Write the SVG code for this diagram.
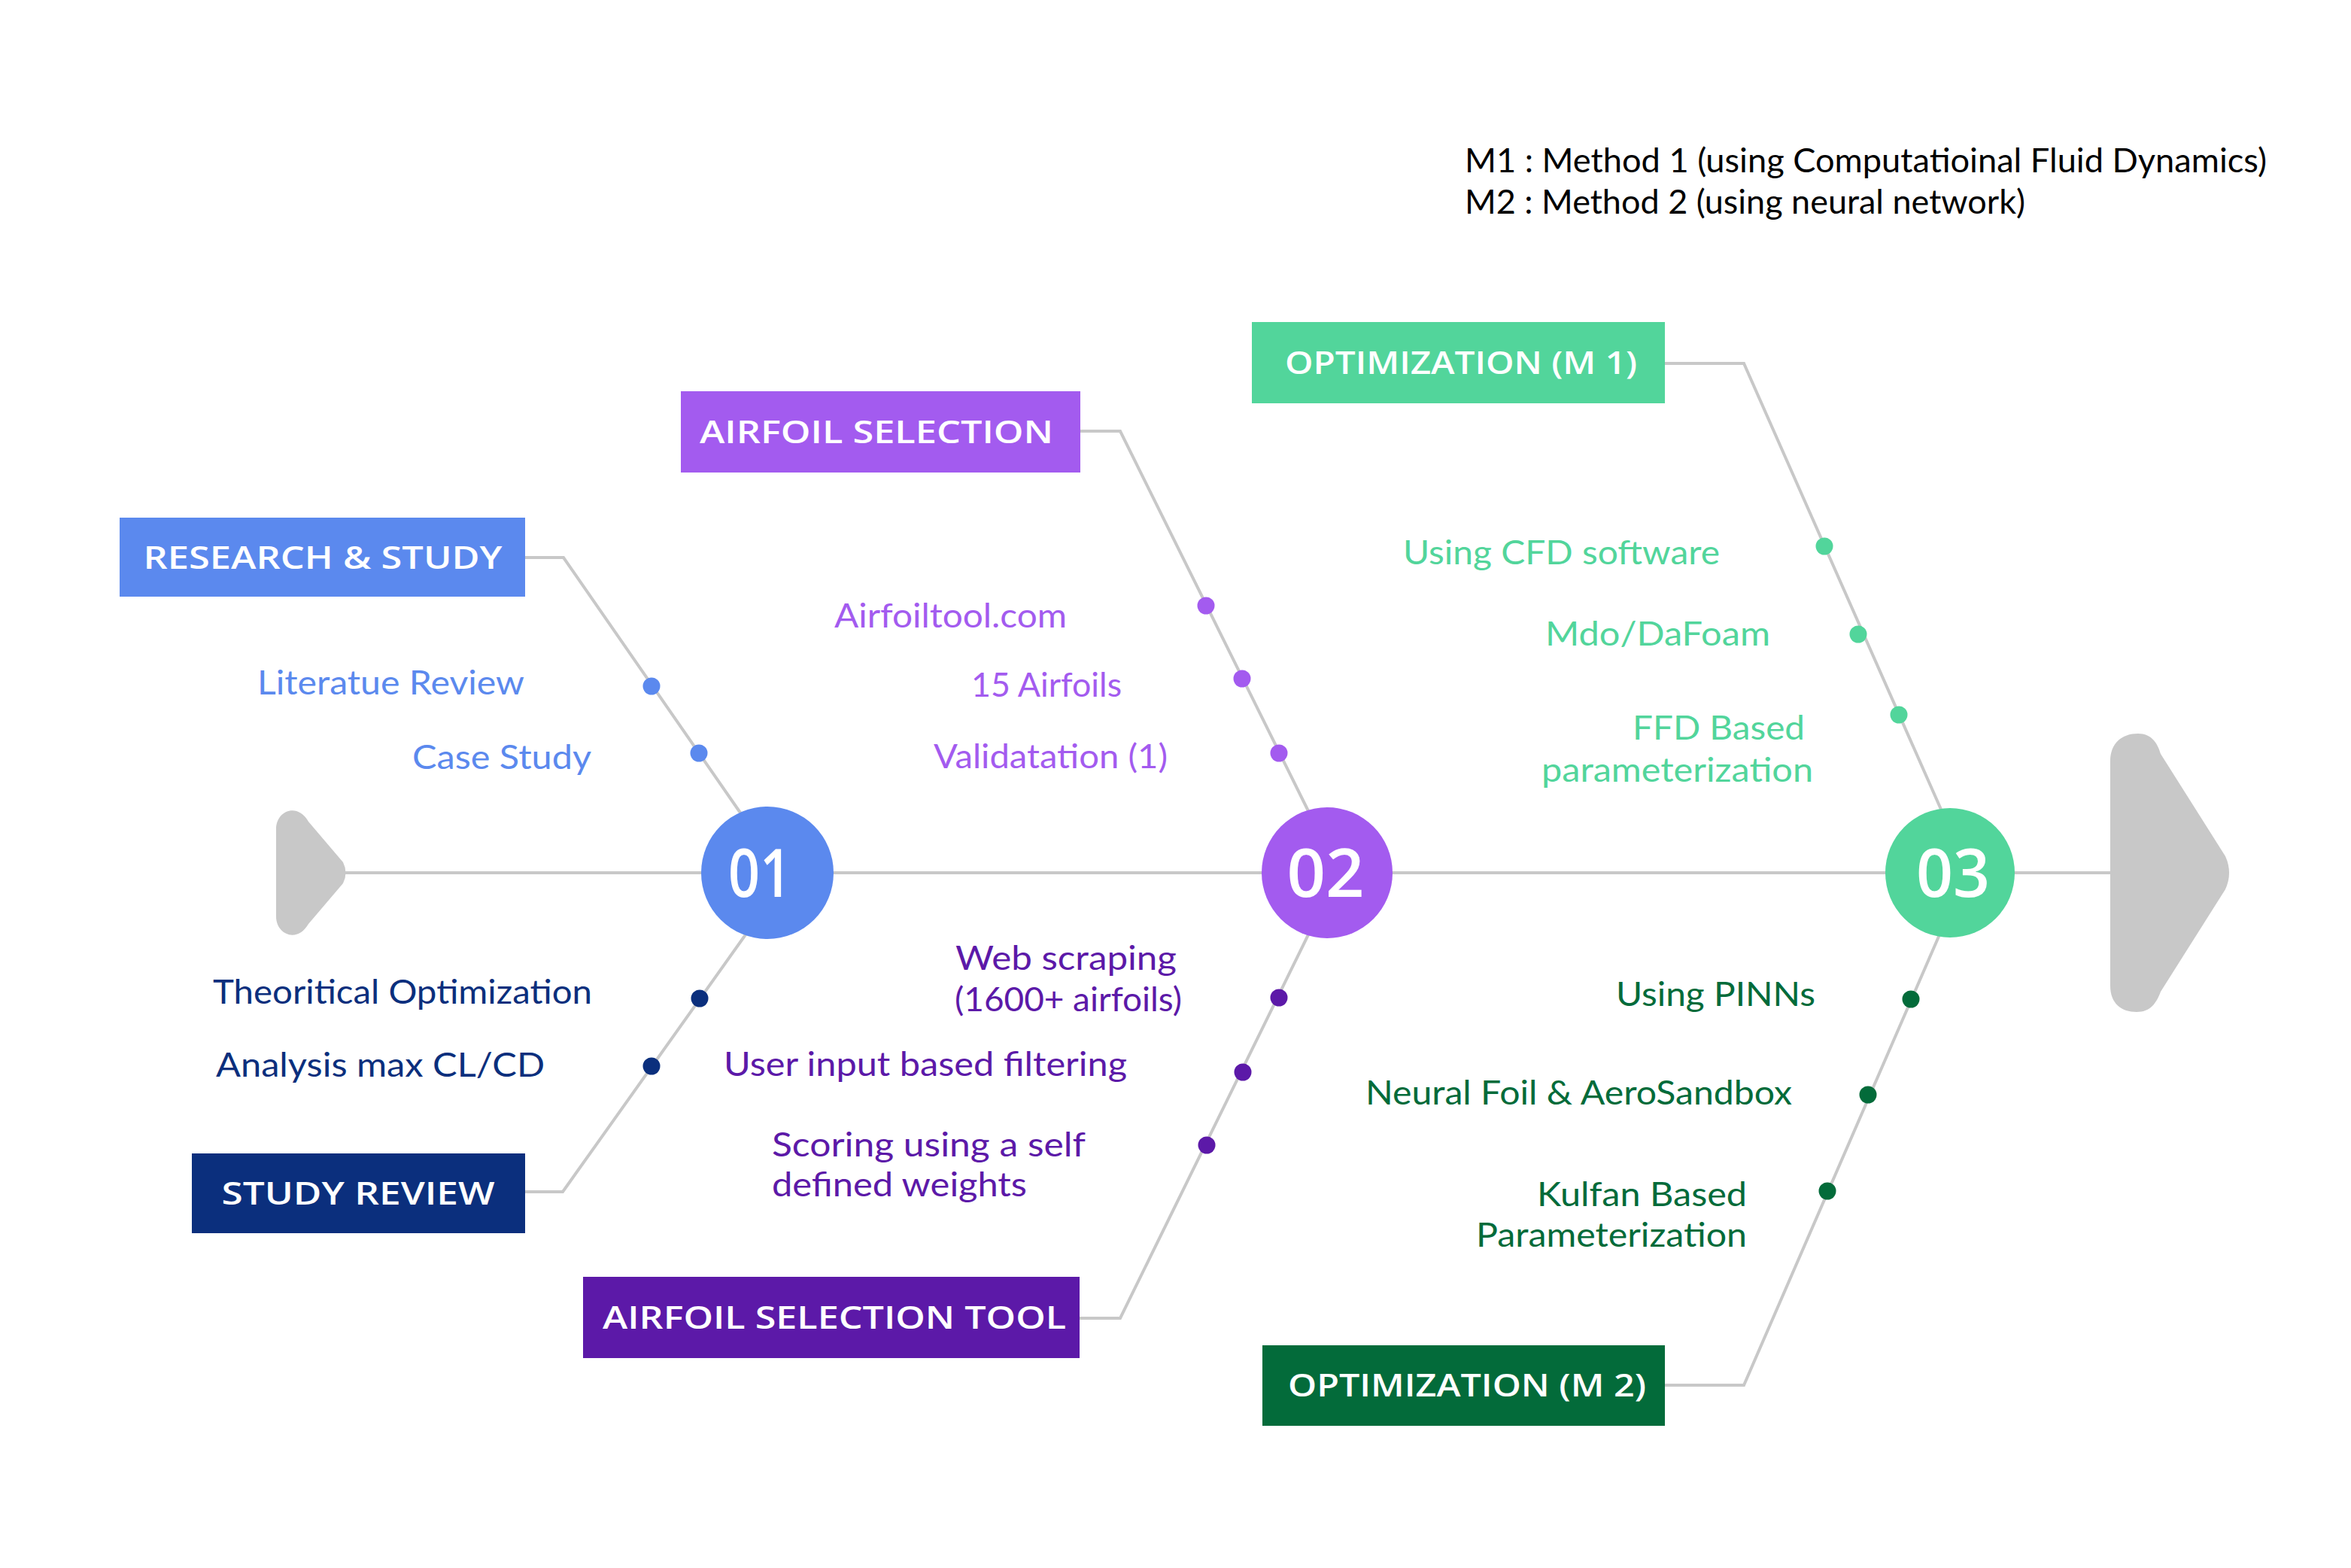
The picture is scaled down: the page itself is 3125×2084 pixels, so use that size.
<svg xmlns="http://www.w3.org/2000/svg" width="3125" height="2084" viewBox="0 0 3125 2084">
<style>
.ln{fill:none;stroke:#C8C8C8;stroke-width:4;stroke-linejoin:miter}
.lbl{font-family:"Open Sans","Liberation Sans",sans-serif;font-weight:600;font-size:42px;fill:#FFFFFF;text-anchor:middle}
.num{font-family:"Open Sans","Liberation Sans",sans-serif;font-weight:600;font-size:88px;fill:#FFFFFF;text-anchor:middle}
.t{font-family:Lato,"Open Sans",sans-serif;font-size:45px}
.e{text-anchor:end}
.lg{font-family:Lato,"Open Sans",sans-serif;font-size:45px;fill:#000000}
.c1{fill:#5B89EE}.c2{fill:#0B2F7D}.c3{fill:#A35BEF}.c4{fill:#5C19A8}.c5{fill:#52D59B}.c6{fill:#036B3A}
</style>
<rect width="3125" height="2084" fill="#FFFFFF"/>
<g id="legend">
<text class="lg" x="1947" y="229" textLength="1066" lengthAdjust="spacingAndGlyphs">M1 : Method 1 (using Computatioinal Fluid Dynamics)</text>
<text class="lg" x="1947" y="284" textLength="745" lengthAdjust="spacingAndGlyphs">M2 : Method 2 (using neural network)</text>
</g>
<g id="connectors">
<path class="ln" d="M455 1160 L2810 1160" stroke-width="5"/>
<path class="ln" d="M698 741 L749 741 L995 1096"/>
<path class="ln" d="M698 1584 L748 1584 L1004 1224"/>
<path class="ln" d="M1436 573 L1489 573 L1748 1096"/>
<path class="ln" d="M1435 1752 L1489 1752 L1748 1224"/>
<path class="ln" d="M2213 483 L2318 483 L2589 1096"/>
<path class="ln" d="M2213 1841 L2318 1841 L2586 1224"/>
</g>
<g id="start-arrow">
<path fill="#C8C8C8" d="M367 1102 C367 1078 395 1066 410 1092 L456 1146 Q463 1160 456 1174 L410 1228 C395 1254 367 1242 367 1218 Z"/>
</g>
<g id="end-arrow">
<path fill="#C8C8C8" d="M2805 1012 C2805 988 2820 975 2842 975 C2860 975 2868 988 2872 1002 L2958 1138 Q2968 1160 2958 1182 L2872 1318 C2866 1334 2858 1345 2840 1345 C2820 1345 2805 1334 2805 1310 Z"/>
</g>
<g id="step-01">
<circle cx="1020" cy="1160" r="88" fill="#5B89EE"/>
<text class="num" x="1010" y="1192" textLength="84" lengthAdjust="spacingAndGlyphs">01</text>
</g>
<g id="step-02">
<circle cx="1764" cy="1160" r="87" fill="#A35BEF"/>
<text class="num" x="1762" y="1192" textLength="103" lengthAdjust="spacingAndGlyphs">02</text>
</g>
<g id="step-03">
<circle cx="2592" cy="1160" r="86" fill="#52D59B"/>
<text class="num" x="2596" y="1192" textLength="98" lengthAdjust="spacingAndGlyphs">03</text>
</g>
<g id="research-study">
<rect x="159" y="688" width="539" height="105" fill="#5B89EE"/>
<text class="lbl" x="429" y="756" textLength="477" lengthAdjust="spacingAndGlyphs">RESEARCH &amp; STUDY</text>
<circle class="c1" cx="866" cy="912" r="11.5"/>
<circle class="c1" cx="929" cy="1001" r="11.5"/>
<text class="t c1 e" x="697" y="923" textLength="355" lengthAdjust="spacingAndGlyphs">Literatue Review</text>
<text class="t c1 e" x="786" y="1022" textLength="238" lengthAdjust="spacingAndGlyphs">Case Study</text>
</g>
<g id="study-review">
<rect x="255" y="1533" width="443" height="106" fill="#0B2F7D"/>
<text class="lbl" x="476" y="1601" textLength="363" lengthAdjust="spacingAndGlyphs">STUDY REVIEW</text>
<circle class="c2" cx="930" cy="1327" r="11.5"/>
<circle class="c2" cx="866" cy="1417" r="11.5"/>
<text class="t c2" x="283" y="1334" textLength="504" lengthAdjust="spacingAndGlyphs">Theoritical Optimization</text>
<text class="t c2" x="287" y="1431" textLength="437" lengthAdjust="spacingAndGlyphs">Analysis max CL/CD</text>
</g>
<g id="airfoil-selection">
<rect x="905" y="520" width="531" height="108" fill="#A35BEF"/>
<text class="lbl" x="1165" y="589" textLength="470" lengthAdjust="spacingAndGlyphs">AIRFOIL SELECTION</text>
<circle class="c3" cx="1603" cy="805" r="11.5"/>
<circle class="c3" cx="1651" cy="902" r="11.5"/>
<circle class="c3" cx="1700" cy="1001" r="11.5"/>
<text class="t c3 e" x="1418" y="834" textLength="309" lengthAdjust="spacingAndGlyphs">Airfoiltool.com</text>
<text class="t c3 e" x="1491" y="926" textLength="200" lengthAdjust="spacingAndGlyphs">15 Airfoils</text>
<text class="t c3 e" x="1552" y="1021" textLength="311" lengthAdjust="spacingAndGlyphs">Validatation (1)</text>
</g>
<g id="airfoil-selection-tool">
<rect x="775" y="1697" width="660" height="108" fill="#5C19A8"/>
<text class="lbl" x="1109" y="1766" textLength="616" lengthAdjust="spacingAndGlyphs">AIRFOIL SELECTION TOOL</text>
<circle class="c4" cx="1700" cy="1326" r="11.5"/>
<circle class="c4" cx="1652" cy="1425" r="11.5"/>
<circle class="c4" cx="1604" cy="1522" r="11.5"/>
<text class="t c4" x="1270" y="1289" textLength="294" lengthAdjust="spacingAndGlyphs">Web scraping</text>
<text class="t c4" x="1269" y="1344" textLength="302" lengthAdjust="spacingAndGlyphs">(1600+ airfoils)</text>
<text class="t c4" x="962" y="1430" textLength="536" lengthAdjust="spacingAndGlyphs">User input based filtering</text>
<text class="t c4" x="1026" y="1537" textLength="417" lengthAdjust="spacingAndGlyphs">Scoring using a self</text>
<text class="t c4" x="1026" y="1590" textLength="339" lengthAdjust="spacingAndGlyphs">defined weights</text>
</g>
<g id="optimization-m1">
<rect x="1664" y="428" width="549" height="108" fill="#52D59B"/>
<text class="lbl" x="1942" y="497" textLength="468" lengthAdjust="spacingAndGlyphs">OPTIMIZATION (M 1)</text>
<circle class="c5" cx="2425" cy="726" r="11.5"/>
<circle class="c5" cx="2470" cy="843" r="11.5"/>
<circle class="c5" cx="2524" cy="950" r="11.5"/>
<text class="t c5 e" x="2286" y="750" textLength="421" lengthAdjust="spacingAndGlyphs">Using CFD software</text>
<text class="t c5 e" x="2353" y="858" textLength="299" lengthAdjust="spacingAndGlyphs">Mdo/DaFoam</text>
<text class="t c5 e" x="2399" y="983" textLength="229" lengthAdjust="spacingAndGlyphs">FFD Based</text>
<text class="t c5 e" x="2410" y="1039" textLength="361" lengthAdjust="spacingAndGlyphs">parameterization</text>
</g>
<g id="optimization-m2">
<rect x="1678" y="1788" width="535" height="107" fill="#036B3A"/>
<text class="lbl" x="1950" y="1856" textLength="476" lengthAdjust="spacingAndGlyphs">OPTIMIZATION (M 2)</text>
<circle class="c6" cx="2540" cy="1328" r="11.5"/>
<circle class="c6" cx="2483" cy="1455" r="11.5"/>
<circle class="c6" cx="2429" cy="1583" r="11.5"/>
<text class="t c6 e" x="2413" y="1337" textLength="265" lengthAdjust="spacingAndGlyphs">Using PINNs</text>
<text class="t c6 e" x="2382" y="1468" textLength="567" lengthAdjust="spacingAndGlyphs">Neural Foil &amp; AeroSandbox</text>
<text class="t c6 e" x="2322" y="1603" textLength="279" lengthAdjust="spacingAndGlyphs">Kulfan Based</text>
<text class="t c6 e" x="2322" y="1657" textLength="360" lengthAdjust="spacingAndGlyphs">Parameterization</text>
</g>
</svg>
